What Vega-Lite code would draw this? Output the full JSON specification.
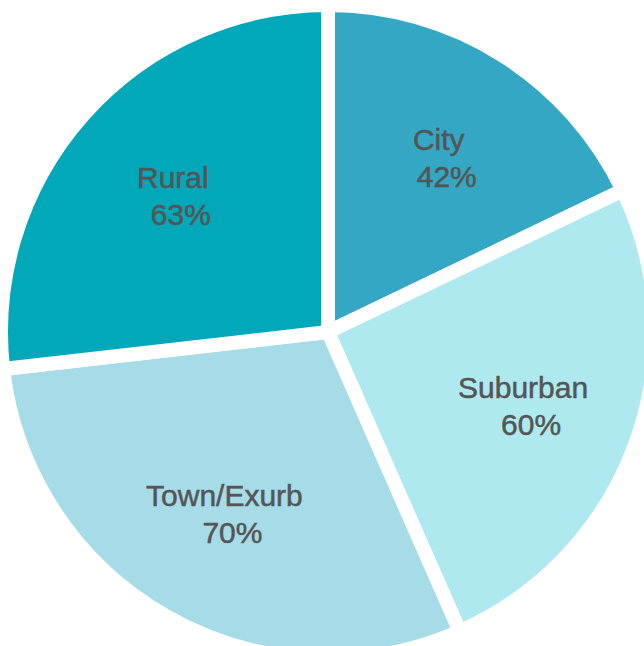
{
  "$schema": "https://vega.github.io/schema/vega-lite/v6.json",
  "autosize": "none",
  "width": 656,
  "height": 664,
  "padding": 0,
  "background": "white",
  "config": {"view": {"stroke": null}},
  "data": {
    "values": [
      {"idx": 1, "label": "City", "value": 0.42},
      {"idx": 2, "label": "Suburban", "value": 0.60},
      {"idx": 3, "label": "Town/Exurb", "value": 0.70},
      {"idx": 4, "label": "Rural", "value": 0.63}
    ]
  },
  "encoding": {
    "theta": {"field": "value", "type": "quantitative", "stack": true},
    "order": {"field": "idx", "type": "quantitative"}
  },
  "layer": [
    {
      "mark": {"type": "arc", "outerRadius": 327, "stroke": "white", "strokeWidth": 14},
      "encoding": {
        "color": {
          "field": "label",
          "type": "nominal",
          "scale": {
            "domain": ["City", "Suburban", "Town/Exurb", "Rural"],
            "range": ["#33A7C4", "#AEE9F0", "#A6DCE8", "#00A8BA"]
          },
          "legend": null
        }
      }
    },
    {
      "mark": {"type": "text", "radius": 208, "dy": -15, "font": "Liberation Sans", "fontSize": 30, "color": "#555555", "stroke": "#555555", "strokeWidth": 0.5},
      "encoding": {"text": {"field": "label", "type": "nominal"}}
    },
    {
      "mark": {"type": "text", "radius": 208, "dy": 22, "dx": 8, "font": "Liberation Sans", "fontSize": 30, "color": "#555555", "stroke": "#555555", "strokeWidth": 0.5},
      "encoding": {"text": {"field": "value", "type": "quantitative", "format": ".0%"}}
    }
  ]
}
